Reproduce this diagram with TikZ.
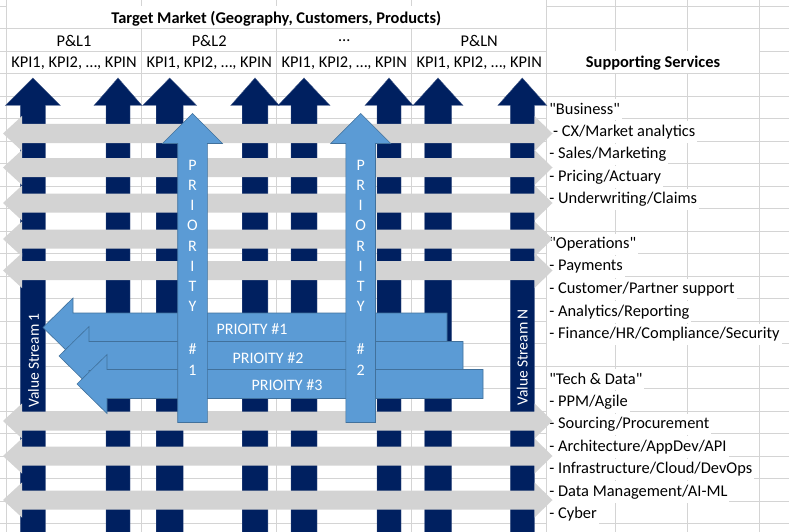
\documentclass[tikz,border=0pt]{standalone}
\usepackage{fontspec}
\setmainfont{Carlito}
\usetikzlibrary{positioning}
\definecolor{navy}{HTML}{002060}
\definecolor{gridgray}{HTML}{D4D4D4}
\definecolor{bandgray}{HTML}{D3D3D3}
\definecolor{prioblue}{HTML}{5B9BD5}
\definecolor{prioedge}{HTML}{41719C}

\begin{document}
\begin{tikzpicture}[x=1pt, y=-1pt,
                    every node/.style={font=\fontsize{16.4}{19}\selectfont, inner sep=0pt},
                    cell/.style={anchor=west, fill=white, inner xsep=2pt, minimum height=21.5pt},
                    headcell/.style={font=\fontsize{16.4}{19}\selectfont\bfseries},
                    stream/.style={fill=navy, draw=navy!75!white, line width=0.4pt},
                    streamtext/.style={text=white, rotate=90, anchor=west, font=\fontsize{15.5}{18}\selectfont},
                    band/.style={fill=bandgray},
                    prio/.style={fill=prioblue, draw=prioedge, line width=0.6pt},
                    priotext/.style={text=white, font=\fontsize{16}{20.2}\selectfont}]

\useasboundingbox (0,0) rectangle (789,532);
\clip (0,0) rectangle (789,532);
\fill[white] (0,0) rectangle (789,532);

% sheet grid
\foreach \r in {0,...,23} \draw[gridgray, line width=0.8pt] (0,6+22.5*\r) -- (789,6+22.5*\r);
\foreach \c in {6,141.7,276.7,411.7,546.7,615.7,687.7,759.5} \draw[gridgray, line width=0.8pt] (\c,0) -- (\c,532);
\fill[white] (6.5,6.5) rectangle (546.2,28);
\fill[white] (547.2,51.5) rectangle (759,73);

% headers
\node (title) [headcell] at (276.4,18.4) {Target Market (Geography, Customers, Products)};
\node (pl1) at (74,40.6) {P\&L1};
\node (pl2) at (209.2,40.6) {P\&L2};
\node (pl3) at (344.2,40.6) {…};
\node (pln) at (479.2,40.6) {P\&LN};
\foreach \c [count=\i] in {74,209.2,344.2,479.2}
  \node (kpi\i) at (\c,63.1) {KPI1, KPI2, …, KPIN};
\node (support) [headcell] at (653,63.1) {Supporting Services};

% supporting services list
\foreach \r/\txt in {5/{\textquotedbl Business\textquotedbl}, 6/{\ - CX/Market analytics}, 7/{- Sales/Marketing},
                     8/{- Pricing/Actuary}, 9/{- Underwriting/Claims}, 11/{\textquotedbl Operations\textquotedbl},
                     12/{- Payments}, 13/{- Customer/Partner support}, 14/{- Analytics/Reporting},
                     15/{- Finance/HR/Compliance/Security}, 17/{\textquotedbl Tech \& Data\textquotedbl}, 18/{- PPM/Agile},
                     19/{- Sourcing/Procurement}, 20/{- Architecture/AppDev/API},
                     21/{- Infrastructure/Cloud/DevOps}, 22/{- Data Management/AI-ML}, 23/{- Cyber}}
  \node (s\r) [cell] at (547.2,19.3+22.5*\r-22.5) {\txt};

% value streams
\foreach \cx/\hw/\sw in {32.8/27.5/12.5, 118/24/12, 169.7/27/13.5, 255/24.3/12.8,
                         304/26/13, 389/24/12, 438/25/13.5, 522.3/24.5/12}
  \draw[stream] (\cx,78) -- (\cx+\hw,105.5) -- (\cx+\sw,105.5) -- (\cx+\sw,545)
        -- (\cx-\sw,545) -- (\cx-\sw,105.5) -- (\cx-\hw,105.5) -- cycle;
\node (vs1) [streamtext] at (33.6,408) {Value Stream 1};
\node (vsn) [streamtext] at (522.3,406) {Value Stream N};

% supporting service bands
\foreach \cy in {133.5,167.5,203,239,270.5,421,456,500}
  \fill[band] (3,\cy) -- (22,\cy-17.5) -- (22,\cy-9.5) -- (534.5,\cy-9.5) -- (534.5,\cy-17.5)
        -- (552.5,\cy) -- (534.5,\cy+17.5) -- (534.5,\cy+9.5) -- (22,\cy+9.5) -- (22,\cy+17.5) -- cycle;

% priorities across
\foreach \tx/\cy/\rx in {43/327.5/447, 59/356/463, 77/384/483}
  \draw[prio] (\tx,\cy) -- (\tx+30,\cy-29.5) -- (\tx+30,\cy-14.5) -- (\rx,\cy-14.5)
        -- (\rx,\cy+14.5) -- (\tx+30,\cy+14.5) -- (\tx+30,\cy+29.5) -- cycle;
\node (p1) [priotext] at (252,329) {PRIOITY \#1};
\node (p2) [priotext] at (268,358) {PRIOITY \#2};
\node (p3) [priotext] at (287,385.5) {PRIOITY \#3};

% priorities up
\foreach \cx in {192.5,360.7}
  \draw[prio] (\cx,113.5) -- (\cx+30,143.5) -- (\cx+14.8,143.5) -- (\cx+14.8,422.5)
        -- (\cx-14.8,422.5) -- (\cx-14.8,143.5) -- (\cx-30,143.5) -- cycle;
\node (u1) [priotext, align=center] at (192.5,267.5) {P\\R\\I\\O\\R\\I\\T\\Y\\[23pt]\#\\1};
\node (u2) [priotext, align=center] at (360.7,267.5) {P\\R\\I\\O\\R\\I\\T\\Y\\[23pt]\#\\2};
\end{tikzpicture}
\end{document}
